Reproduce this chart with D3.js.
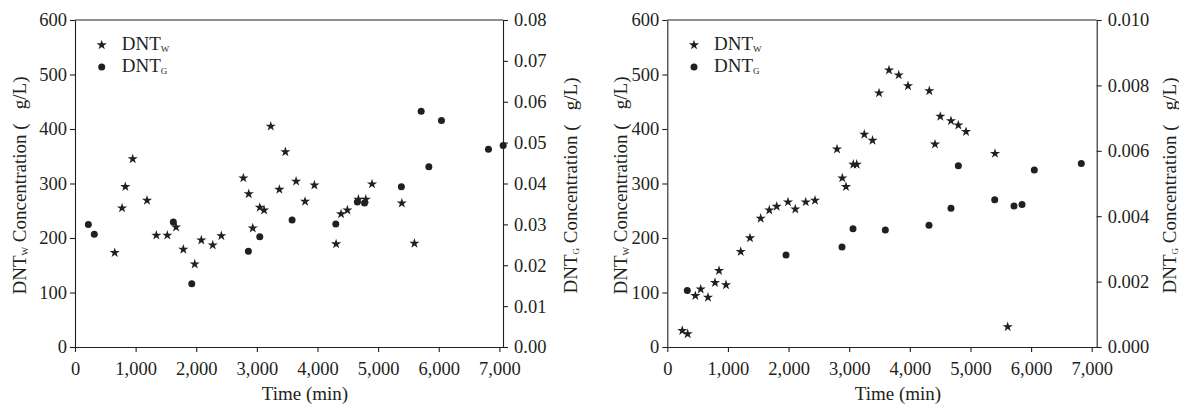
<!DOCTYPE html>
<html>
<head>
<meta charset="utf-8">
<script src="https://cdn.jsdelivr.net/npm/d3@7"></script>
<style>
  html, body { margin: 0; padding: 0; background: #fff; }
  svg { display: block; }
  text { font-family: "Liberation Serif", "Times New Roman", serif; fill: #231f20; }
</style>
</head>
<body>
<svg id="chart" width="1179" height="405"></svg>
<script>
// ---------- data ----------
const timeTicks = [0, 1000, 2000, 3000, 4000, 5000, 6000, 7000];
const leftAxisTicks = [0, 100, 200, 300, 400, 500, 600];
const rightAxisTicksA = [0, 0.01, 0.02, 0.03, 0.04, 0.05, 0.06, 0.07, 0.08];
const rightAxisTicksB = [0, 0.002, 0.004, 0.006, 0.008, 0.010];

// Panel A (left)
const aTimeW = [655, 776, 830, 952, 1188, 1342, 1523, 1667, 1787, 1975, 2084, 2272, 2414, 2777, 2866, 2932, 3048, 3119, 3229, 3371, 3470, 3647, 3795, 3949, 4307, 4389, 4493, 4675, 4797, 4900, 5391, 5599];
const aDNTW  = [173, 255, 294, 345, 269, 205, 205, 220, 179, 152, 196, 187, 204, 310, 281, 218, 256, 251, 405, 289, 358, 304, 267, 297, 189, 244, 251, 271, 271, 299, 264, 190];
const aTimeG = [220, 318, 1622, 1926, 2860, 3048, 3581, 4302, 4658, 4776, 5384, 5710, 5837, 6045, 6820, 7063];
const aDNTG  = [0.0300, 0.0276, 0.0306, 0.0155, 0.0234, 0.0270, 0.0311, 0.0301, 0.0355, 0.0352, 0.0392, 0.0577, 0.0441, 0.0554, 0.0484, 0.0493];

// Panel B (right)
const bTimeW = [247, 336, 462, 551, 671, 787, 853, 968, 1211, 1364, 1540, 1682, 1804, 1991, 2111, 2283, 2436, 2799, 2886, 2947, 3068, 3124, 3249, 3385, 3492, 3657, 3817, 3970, 4321, 4415, 4503, 4679, 4800, 4927, 5405, 5614];
const bDNTW  = [30, 24, 94, 106, 91, 118, 140, 114, 175, 200, 236, 251, 258, 266, 253, 266, 269, 363, 310, 294, 335, 335, 390, 379, 466, 508, 499, 479, 470, 372, 423, 415, 407, 395, 355, 37];
const bTimeG = [330, 1958, 2881, 3063, 3596, 4316, 4679, 4800, 5400, 5718, 5850, 6053, 6828];
const bDNTG  = [0.00173, 0.00281, 0.00306, 0.00362, 0.00358, 0.00372, 0.00424, 0.00554, 0.00450, 0.00431, 0.00436, 0.00541, 0.00561];

const legendNames = ["W", "G"];

// ---------- drawing ----------
const svg = d3.select("#chart");
const INK = "#231f20";
const TICK_FONT = "18.5px";
const LABEL_FONT = "19px";

function drawPanel(p) {
  const g = svg.append("g");
  const x = d3.scaleLinear().domain([0, p.xMax]).range([p.x0, p.x1]);
  const yL = d3.scaleLinear().domain([0, 600]).range([p.yB, p.yT]);
  const yR = d3.scaleLinear().domain([0, p.rMax]).range([p.yB, p.yT]);

  const style = sel => {
    sel.selectAll("path.domain").attr("stroke", INK).attr("stroke-width", 1.1);
    sel.selectAll(".tick line").attr("stroke", INK).attr("stroke-width", 1.1);
    sel.selectAll(".tick text").style("font-size", TICK_FONT).attr("fill", INK)
      .style("font-family", '"Liberation Serif", serif');
  };

  g.append("g").attr("transform", `translate(0,${p.yB})`)
    .call(d3.axisBottom(x).tickValues(timeTicks).tickFormat(d3.format(",")).tickSize(5).tickSizeOuter(0).tickPadding(10))
    .call(style);
  g.append("g").attr("transform", `translate(${p.x0},0)`)
    .call(d3.axisLeft(yL).tickValues(leftAxisTicks).tickFormat(d3.format("d")).tickSize(5).tickSizeOuter(0).tickPadding(3))
    .call(style);
  g.append("g").attr("transform", `translate(${p.x1},0)`)
    .call(d3.axisRight(yR).tickValues(p.rTicks).tickFormat(d3.format(p.rFmt)).tickSize(5).tickSizeOuter(0).tickPadding(6))
    .call(style);
  // top border
  g.append("line").attr("x1", p.x0).attr("x2", p.x1).attr("y1", p.yT).attr("y2", p.yT)
    .attr("stroke", INK).attr("stroke-width", 1.1);

  const star = d3.symbol(d3.symbolStar, 32);
  // W stars (left axis)
  g.append("g").selectAll("path").data(p.tW.map((t, i) => [t, p.vW[i]])).join("path")
    .attr("d", star).attr("fill", INK)
    .attr("transform", d => `translate(${x(d[0])},${yL(d[1])})`);
  // G circles (right axis)
  g.append("g").selectAll("circle").data(p.tG.map((t, i) => [t, p.vG[i]])).join("circle")
    .attr("cx", d => x(d[0])).attr("cy", d => yR(d[1])).attr("r", 3.5).attr("fill", INK);

  // legend
  const lx = p.x0 + 26.7;
  g.append("path").attr("d", star).attr("fill", INK).attr("transform", `translate(${lx},45)`);
  g.append("circle").attr("cx", lx).attr("cy", 67).attr("r", 3.5).attr("fill", INK);
  legendNames.forEach((n, i) => {
    const t = g.append("text").attr("x", lx + 20).attr("y", 50 + i * 22).style("font-size", LABEL_FONT);
    t.append("tspan").text("DNT");
    t.append("tspan").attr("dy", 1.5).style("font-size", "9px").text(n);
  });

  // x title
  g.append("text").attr("x", (p.x0 + p.x1) / 2 + 16).attr("y", 400)
    .attr("text-anchor", "middle").style("font-size", LABEL_FONT).text("Time (min)");

  // y titles
  function yTitle(xPos, sub) {
    const t = g.append("text").attr("transform", `translate(${xPos},${(p.yT + p.yB) / 2 + 2}) rotate(-90)`)
      .attr("text-anchor", "middle").style("font-size", LABEL_FONT);
    t.append("tspan").text("DNT");
    t.append("tspan").attr("dy", 2).style("font-size", "9px").text(sub);
    t.append("tspan").attr("dy", -2).text("\u00a0Concentration (\u00a0\u2002g/L)");
  }
  yTitle(p.labL, "W");
  yTitle(p.labR, "G");
}

drawPanel({ x0: 75, x1: 503, xMax: 7060, yT: 20, yB: 347, rMax: 0.08, rTicks: rightAxisTicksA, rFmt: ".2f",
  tW: aTimeW, vW: aDNTW, tG: aTimeG, vG: aDNTG, labL: 26, labR: 577 });
drawPanel({ x0: 667.3, x1: 1096.7, xMax: 7082, yT: 20, yB: 347, rMax: 0.010, rTicks: rightAxisTicksB, rFmt: ".3f",
  tW: bTimeW, vW: bDNTW, tG: bTimeG, vG: bDNTG, labL: 627, labR: 1176 });
</script>
</body>
</html>
